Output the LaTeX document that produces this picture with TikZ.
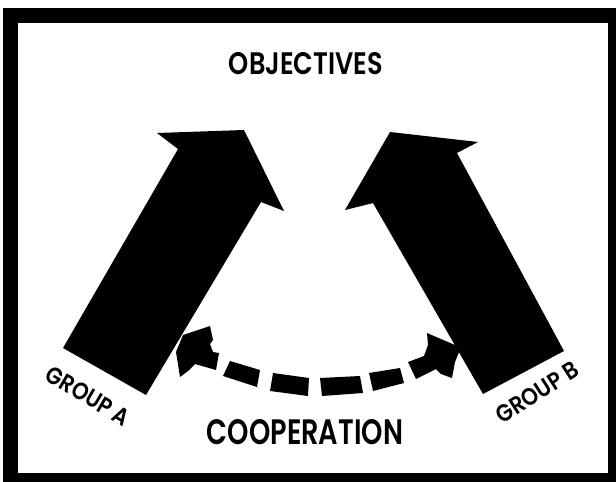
\documentclass[tikz,border=0pt]{standalone}
\usepackage{fontspec}
\usepackage{graphicx}
\newfontfamily\geofont{Poppins}[UprightFont={* SemiBold}]
\tikzset{
  ink/.style={fill=black, draw=none},
  caption/.style={inner sep=0pt, outer sep=0pt, anchor=center, font=\geofont},
}
\begin{document}
\begin{tikzpicture}[x=1pt, y=-1pt]
\useasboundingbox (0,0) rectangle (616,482);
\fill[white] (0,0) rectangle (616,482);
% frame
\fill[black] (3,8) rectangle (616,482);
\fill[white] (18,23) rectangle (608,473);

% left big arrow (Group A)
\fill[ink] (63,348) -- (178,149) -- (157,133) -- (244,130) -- (284,211) -- (261,202) -- (146,395) -- cycle;
% right big arrow (Group B)
\fill[ink] (483,394) -- (373,203) -- (345,210) -- (390,132) -- (478,142) -- (457,153) -- (564,351) -- cycle;

% dashed cooperation arrow: left head
\fill[ink] (176,352) -- (183,335) -- (210,326) -- (213,340) -- (210,344) -- (213,352) -- (219,353)
  -- (216,370) -- (195,364) -- (188,371) -- (180,377) -- cycle;
% dashes
\fill[ink] (230,361) -- (260,370) -- (257,387) -- (223,376) -- cycle;
\fill[ink] (273,373) -- (309,378) -- (308,396) -- (270,391) -- cycle;
\fill[ink] (320,378) -- (360,376) -- (363,393) -- (322,396) -- cycle;
\fill[ink] (369,373) -- (400,368) -- (404,383) -- (373,391) -- cycle;
% right head
\fill[ink] (427,333) -- (455,345) -- (459,352) -- (455,362) -- (452,378) -- (441,374) -- (436,369)
  -- (416,379) -- (408,362) -- (424,356) -- (428,345) -- cycle;

% texts
\node[caption] (obj) at (306,64) {\resizebox{154pt}{22pt}{OBJECTIVES}};
\node[caption] (coop) at (305,432.5) {\resizebox{196pt}{25pt}{COOPERATION}};
\node[caption, rotate=-30.5] (ga) at (88,396) {\resizebox{93pt}{17pt}{GROUP A}};
\node[caption, rotate=32.7] (gb) at (537,392) {\resizebox{93pt}{17pt}{GROUP B}};
\end{tikzpicture}
\end{document}
